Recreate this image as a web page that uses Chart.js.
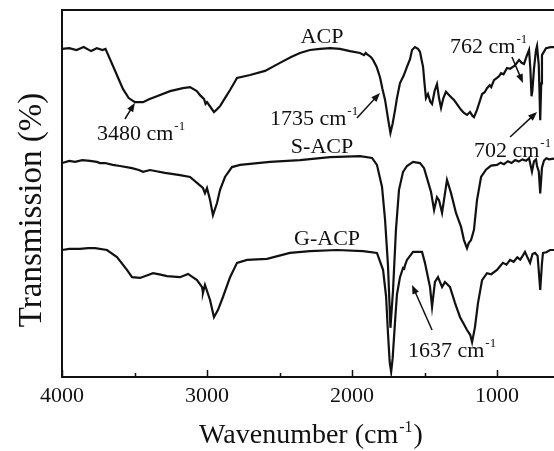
<!DOCTYPE html>
<html>
<head>
<meta charset="utf-8">
<script src="https://cdn.jsdelivr.net/npm/chart.js@4.4.0/dist/chart.umd.min.js"></script>
<style>
  html, body { margin: 0; padding: 0; background: #fff; }
</style>
</head>
<body>
<canvas id="ftir" width="554" height="451"></canvas>
<script>
// FTIR spectra, wavenumber (cm-1) against offset transmission (%)
const acpWave = [4000, 3950, 3900, 3850, 3800, 3760, 3720, 3700, 3640, 3580, 3540, 3497, 3441, 3400, 3359, 3255,
  3166, 3117, 3070, 3048, 3020, 3010, 3000, 2975, 2952, 2930, 2910, 2876, 2841, 2793, 2703, 2600, 2497, 2420, 2359,
  2290, 2221, 2150, 2083, 2014, 1945, 1917, 1905, 1897, 1870, 1855, 1830, 1807, 1790, 1772, 1750, 1735, 1720, 1703,
  1690, 1669, 1645, 1621, 1600, 1586, 1566, 1545, 1531, 1520, 1510, 1500, 1490, 1476, 1460, 1448, 1430, 1414, 1400,
  1386, 1370, 1352, 1330, 1297, 1270, 1248, 1230, 1207, 1186, 1170, 1159, 1138, 1120, 1103, 1085, 1069, 1050, 1040,
  1021, 1000, 985, 972, 955, 931, 910, 883, 865, 848, 830, 814, 795, 779, 770, 762, 756, 745, 731, 724, 712, 702,
  695, 690, 662, 630, 607];
const acpT = [89.4, 89.6, 89.1, 89.9, 88.8, 89.6, 89.1, 89.4, 84.0, 78.5, 76.0, 74.9, 74.9, 75.7, 76.3, 77.9,
  78.7, 79.0, 77.9, 76.8, 75.7, 74.4, 74.9, 73.5, 72.2, 73.0, 73.8, 76.0, 78.2, 81.5, 82.3, 83.4, 85.6, 87.2, 88.3,
  89.1, 89.4, 89.6, 89.4, 88.8, 88.3, 87.7, 88.3, 88.0, 87.2, 86.4, 84.5, 81.7, 78.5, 75.5, 70.0, 66.5, 69.0, 72.8,
  76.0, 80.1, 82.0, 84.5, 86.6, 89.1, 89.9, 89.4, 88.6, 86.4, 84.5, 80.0, 76.0, 77.1, 75.0, 74.4, 78.0, 79.8, 76.0,
  73.3, 76.0, 77.7, 76.8, 75.5, 74.0, 72.8, 72.0, 71.4, 72.2, 71.2, 70.8, 72.8, 75.0, 77.1, 77.6, 78.7, 79.5, 79.0,
  80.9, 81.5, 82.0, 82.8, 82.5, 84.2, 84.0, 84.7, 85.5, 86.4, 85.6, 85.3, 87.5, 89.1, 84.0, 76.5, 78.0, 84.0, 89.1,
  90.2, 85.0, 70.0, 80.0, 87.7, 89.6, 89.9, 89.9];

const sacpWave = [4000, 3950, 3910, 3860, 3807, 3760, 3738, 3703, 3650, 3600, 3517, 3470, 3441, 3393, 3340, 3290,
  3186, 3117, 3069, 3028, 3014, 3000, 2979, 2959, 2931, 2910, 2876, 2828, 2772, 2566, 2359, 2152, 1945, 1862, 1828,
  1793, 1772, 1752, 1735, 1717, 1697, 1676, 1648, 1621, 1579, 1531, 1503, 1483, 1455, 1434, 1414, 1400, 1379, 1345,
  1317, 1283, 1248, 1228, 1207, 1195, 1179, 1159, 1138, 1110, 1076, 1041, 1000, 975, 952, 925, 900, 875, 850, 825,
  800, 779, 770, 759, 745, 731, 724, 712, 702, 690, 676, 660, 641, 607];
const sacpT = [58.3, 58.9, 58.6, 59.1, 58.9, 58.6, 58.3, 58.3, 57.8, 57.5, 56.9, 56.4, 55.9, 56.4, 56.0, 55.6,
  55.0, 54.5, 52.9, 51.5, 50.1, 51.5, 48.2, 44.1, 47.4, 51.0, 54.5, 57.2, 57.8, 58.6, 59.1, 59.9, 60.2, 59.7, 57.8,
  51.8, 42.8, 30.5, 13.4, 23.7, 40.1, 51.0, 55.9, 57.5, 58.6, 58.3, 56.9, 54.2, 50.4, 45.5, 49.0, 48.2, 44.7, 53.7,
  50.1, 44.7, 40.9, 37.3, 35.1, 36.5, 37.3, 40.1, 48.2, 54.5, 56.5, 57.6, 57.8, 58.4, 58.0, 58.8, 58.3, 59.1, 58.7, 59.3,
  58.9, 59.6, 58.0, 56.0, 58.8, 59.3, 57.5, 56.0, 50.0, 57.0, 59.0, 59.6, 59.3, 59.5];

const gacpWave = [4000, 3950, 3876, 3820, 3772, 3690, 3621, 3552, 3517, 3462, 3420, 3372, 3320, 3276, 3186, 3131,
  3069, 3034, 3028, 3014, 2979, 2952, 2924, 2890, 2841, 2793, 2724, 2586, 2428, 2290, 2103, 1924, 1828, 1786, 1765,
  1752, 1740, 1730, 1720, 1710, 1700, 1690, 1669, 1648, 1640, 1634, 1621, 1579, 1517, 1497, 1462, 1448, 1428, 1407,
  1379, 1359, 1324, 1290, 1255, 1230, 1207, 1185, 1172, 1152, 1131, 1103, 1069, 1040, 1000, 975, 959, 935, 910, 885,
  860, 840, 820, 807, 790, 772, 755, 738, 720, 702, 690, 683, 660, 634, 607];
const gacpT = [34.6, 34.9, 34.9, 35.1, 35.1, 34.6, 32.7, 29.2, 27.2, 27.0, 27.6, 28.3, 27.9, 27.5, 27.2, 28.1,
  26.4, 24.5, 22.9, 25.1, 21.0, 16.3, 18.3, 21.8, 27.2, 31.1, 31.9, 32.2, 33.8, 34.3, 34.6, 34.3, 33.8, 29.2, 22.0,
  12.0, 4.0, 1.4, 5.0, 11.0, 17.0, 22.5, 27.2, 29.7, 29.5, 30.5, 31.9, 34.1, 34.1, 31.1, 24.5, 19.1, 25.9, 27.2,
  24.5, 25.9, 24.5, 20.2, 16.3, 14.5, 12.8, 11.5, 9.5, 13.6, 20.2, 26.4, 28.3, 28.0, 29.2, 30.4, 31.1, 30.6, 31.9, 31.4,
  32.6, 32.0, 33.2, 34.1, 32.6, 31.1, 33.5, 33.8, 33.0, 23.7, 31.0, 33.8, 34.0, 34.6, 34.6];

const sampleNames = ['ACP', 'S-ACP', 'G-ACP'];
const bandLabels = ['3480', '1735', '762', '702', '1637'];
const xTicks = [4000, 3500, 3000, 2500, 2000, 1500, 1000];

const SERIF = '"Liberation Serif", "Times New Roman", serif';
const INK = '#111';

function pairs(wave, t) {
  return wave.map((w, i) => ({ x: w, y: t[i] }));
}

// text followed by a raised "-1" and an optional tail, left aligned at x
function drawUnit(ctx, x, y, main, tail, size, supSize, rise) {
  ctx.font = `${size}px ${SERIF}`;
  ctx.textAlign = 'left';
  ctx.textBaseline = 'alphabetic';
  ctx.fillText(main, x, y);
  let cx = x + ctx.measureText(main).width + 1;
  ctx.font = `${supSize}px ${SERIF}`;
  ctx.fillText('-1', cx, y - rise);
  cx += ctx.measureText('-1').width + 1;
  if (tail) {
    ctx.font = `${size}px ${SERIF}`;
    ctx.fillText(tail, cx, y);
  }
}

function unitWidth(ctx, main, tail, size, supSize) {
  ctx.font = `${size}px ${SERIF}`;
  let w = ctx.measureText(main).width + (tail ? ctx.measureText(tail).width : 0) + 2;
  ctx.font = `${supSize}px ${SERIF}`;
  return w + ctx.measureText('-1').width;
}

function arrow(ctx, x1, y1, x2, y2) {
  const a = Math.atan2(y2 - y1, x2 - x1);
  const len = 9, half = 3.5;
  ctx.beginPath();
  ctx.moveTo(x1, y1);
  ctx.lineTo(x2 - Math.cos(a) * len * 0.8, y2 - Math.sin(a) * len * 0.8);
  ctx.stroke();
  ctx.beginPath();
  ctx.moveTo(x2, y2);
  ctx.lineTo(x2 - Math.cos(a) * len - Math.sin(a) * half, y2 - Math.sin(a) * len + Math.cos(a) * half);
  ctx.lineTo(x2 - Math.cos(a) * len + Math.sin(a) * half, y2 - Math.sin(a) * len - Math.cos(a) * half);
  ctx.closePath();
  ctx.fill();
}

// frame, inward ticks, titles and band annotations
const decorations = {
  id: 'decorations',
  afterDraw(chart) {
    const { ctx, chartArea: area, scales: { x, y } } = chart;
    const px = (w, t) => [x.getPixelForValue(w), y.getPixelForValue(t)];
    ctx.save();
    ctx.strokeStyle = INK;
    ctx.fillStyle = INK;

    ctx.lineWidth = 2;
    ctx.beginPath();
    ctx.moveTo(chart.width, area.top);
    ctx.lineTo(area.left, area.top);
    ctx.lineTo(area.left, area.bottom);
    ctx.lineTo(chart.width, area.bottom);
    ctx.stroke();

    ctx.lineWidth = 1.5;
    xTicks.forEach(v => {
      const tx = Math.round(x.getPixelForValue(v)) + 0.5;
      const len = v % 1000 === 0 ? 7 : 4;
      ctx.beginPath();
      ctx.moveTo(tx, area.bottom);
      ctx.lineTo(tx, area.bottom - len);
      ctx.stroke();
    });

    // axis titles
    const tw = unitWidth(ctx, 'Wavenumber (cm', ')', 28, 16);
    drawUnit(ctx, (area.left + chart.width) / 2 + 3 - tw / 2, 443, 'Wavenumber (cm', ')', 28, 16, 11);

    ctx.save();
    ctx.translate(41, 210);
    ctx.rotate(-Math.PI / 2);
    ctx.font = `33px ${SERIF}`;
    ctx.textAlign = 'center';
    ctx.textBaseline = 'alphabetic';
    ctx.fillText('Transmission (%)', 0, 0);
    ctx.restore();

    // sample names over each trace
    const nameAt = [[2207, 91.0], [2207, 61.0], [2172, 36.0]];
    ctx.font = `22px ${SERIF}`;
    ctx.textAlign = 'center';
    ctx.textBaseline = 'alphabetic';
    sampleNames.forEach((n, i) => {
      const [lx, ly] = px(nameAt[i][0], nameAt[i][1]);
      ctx.fillText(n, lx, ly);
    });

    // band assignments: label anchor, arrow tail, arrow head
    const bandAt = [[3759, 64.6], [2566, 68.7], [1324, 88.3], [1159, 59.9], [1614, 5.4]];
    const tails = [[3566, 70.3], [1966, 70.6], [897, 87.2], [910, 65.4], [1448, 12.8]];
    const heads = [[3497, 74.7], [1807, 77.4], [821, 80.1], [724, 72.2], [1586, 25.1]];
    bandLabels.forEach((b, i) => {
      const [lx, ly] = px(bandAt[i][0], bandAt[i][1]);
      drawUnit(ctx, lx, ly, b + ' cm', '', 22, 13, 10);
      const [ax, ay] = px(tails[i][0], tails[i][1]);
      const [bx, by] = px(heads[i][0], heads[i][1]);
      ctx.lineWidth = 1.5;
      arrow(ctx, ax, ay, bx, by);
    });
    ctx.restore();
  }
};

const line = (label, data) => ({
  label,
  data,
  borderColor: INK,
  borderWidth: 2.2,
  pointRadius: 0,
  tension: 0,
  fill: false
});

new Chart(document.getElementById('ftir'), {
  type: 'line',
  data: {
    datasets: [
      line(sampleNames[0], pairs(acpWave, acpT)),
      line(sampleNames[1], pairs(sacpWave, sacpT)),
      line(sampleNames[2], pairs(gacpWave, gacpT))
    ]
  },
  options: {
    responsive: false,
    animation: false,
    devicePixelRatio: 1,
    layout: { padding: { top: 10, right: 0, left: 0, bottom: 0 } },
    plugins: {
      legend: { display: false },
      tooltip: { enabled: false }
    },
    scales: {
      x: {
        type: 'linear',
        reverse: true,
        min: 607,
        max: 4000,
        afterBuildTicks: (scale) => { scale.ticks = xTicks.map(v => ({ value: v })); },
        afterFit: (scale) => { scale.height = 74; },
        grid: { display: false, drawTicks: false },
        border: { display: false },
        ticks: {
          autoSkip: false,
          maxRotation: 0,
          padding: 6,
          color: INK,
          font: { family: SERIF, size: 22 },
          callback: (v) => (v % 1000 === 0 ? String(v) : '')
        }
      },
      y: {
        min: 0,
        max: 100,
        afterFit: (scale) => { scale.width = 62; },
        grid: { display: false, drawTicks: false },
        border: { display: false },
        ticks: { display: false }
      }
    }
  },
  plugins: [decorations]
});
</script>
</body>
</html>
